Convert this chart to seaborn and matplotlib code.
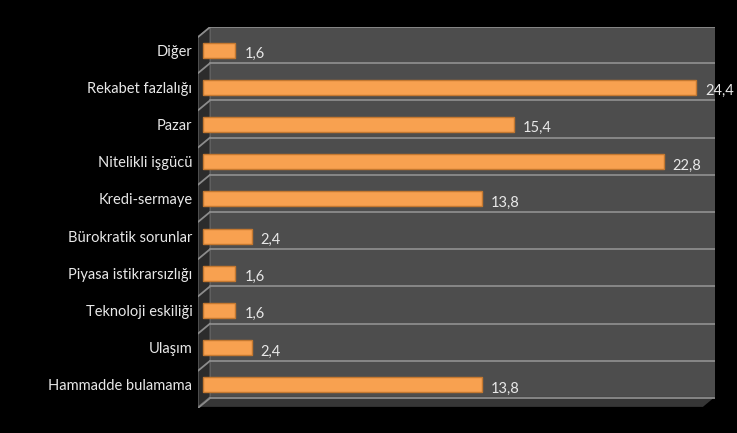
import matplotlib
matplotlib.use("Agg")
import matplotlib.pyplot as plt
import seaborn as sns
import pandas as pd
from matplotlib.patches import Polygon, Rectangle

# data (top to bottom as shown)
categories = ["Diğer", "Rekabet fazlalığı", "Pazar", "Nitelikli işgücü", "Kredi-sermaye",
              "Bürokratik sorunlar", "Piyasa istikrarsızlığı", "Teknoloji eskiliği",
              "Ulaşım", "Hammadde bulamama"]
values = [1.6, 24.4, 15.4, 22.8, 13.8, 2.4, 1.6, 1.6, 2.4, 13.8]

df = pd.DataFrame({"kategori": categories, "deger": values})

sns.set_theme(style="white")
plt.rcParams['font.family'] = ['Lato', 'DejaVu Sans']

fig = plt.figure(figsize=(7.37, 4.33), dpi=100, facecolor="black")
# axes from x=198..715 px, y=27..408 px
ax = fig.add_axes([198 / 737, 1 - 408 / 433, (715 - 198) / 737, (408 - 27) / 433])
ax.set_facecolor("black")

xmin, xmax = -0.25, 25.35
ytop, ybot = -0.62, 9.62
depth_x, depth_y = 0.35, 0.27  # 3d offset of back wall

# back wall, side wall, floor
ax.add_patch(Rectangle((depth_x, ytop), xmax - depth_x, 9.32 - ytop,
                       facecolor="#4d4d4d", edgecolor="none", zorder=0))
ax.add_patch(Polygon([(xmin, ytop + depth_y), (depth_x, ytop), (depth_x, 9.32), (xmin, 9.32 + depth_y)],
                     closed=True, facecolor="#2c2c2c", edgecolor="#6a6a6a", lw=0.8, zorder=0.5))
ax.add_patch(Polygon([(xmin, 9.32 + depth_y), (depth_x, 9.32), (xmax, 9.32), (xmax - 0.6, 9.32 + depth_y)],
                     closed=True, facecolor="#363636", edgecolor="none", zorder=0.5))

# gridlines at row boundaries
for i in range(-1, 10):
    yb = i + 0.35 if i >= 0 else ytop
    ax.plot([depth_x, xmax], [yb, yb], color="#8c8c8c", lw=1.3, zorder=1)
    ax.plot([xmin, depth_x], [yb + depth_y, yb], color="#8c8c8c", lw=1.3, zorder=1)

sns.barplot(data=df, y="kategori", x="deger", orient="h", ax=ax, order=categories,
            color="#f8a150", saturation=1, width=0.4, edgecolor="#c47830", linewidth=1, zorder=3)

for i, v in enumerate(values):
    ax.text(v + 0.45, i + 0.1, f"{v:.1f}".replace(".", ","), color="#e8e8e8",
            fontsize=10.5, va="center", ha="left", zorder=4, clip_on=False)

ax.set_xlim(xmin, xmax)
ax.set_ylim(ybot, ytop)
ax.set_xlabel("")
ax.set_ylabel("")
ax.set_xticks([])
ax.set_yticks(range(len(categories)))
ax.set_yticklabels(categories, color="#e8e8e8", fontsize=10.5)
ax.tick_params(axis="y", length=0, pad=4)
for s in ax.spines.values():
    s.set_visible(False)

fig.savefig("out.png", dpi=100, facecolor="black")
